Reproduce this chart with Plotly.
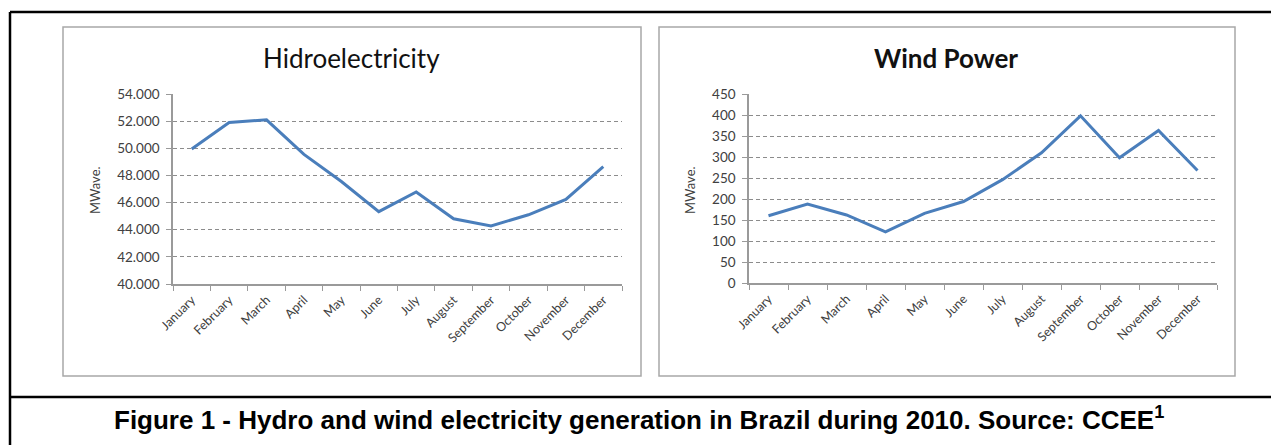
import plotly.graph_objects as go

W, H = 1279, 445
OFF = 8  # page body margin compensation

months = ["January", "February", "March", "April", "May", "June", "July",
          "August", "September", "October", "November", "December"]
hydro = [49950, 51900, 52100, 49550, 47550, 45330, 46780, 44810, 44280, 45100, 46230, 48650]
wind = [160, 188, 162, 122, 166, 194, 246, 310, 398, 298, 363, 268]

hydro_ticks = list(range(40000, 54001, 2000))
wind_ticks = list(range(0, 451, 50))

LINE = "#4A7EBB"
GRID = "#8c8c8c"
AXIS = "#9a9a9a"
TXT = "#404040"
FONT = "Lato"


def fx(x):
    return (x - OFF) / W


def fy(y):
    return 1 - (y - OFF) / H


fig = go.Figure()
fig.add_trace(go.Scatter(x=months, y=hydro, mode="lines", xaxis="x", yaxis="y",
                         line=dict(color=LINE, width=3), showlegend=False))
fig.add_trace(go.Scatter(x=months, y=wind, mode="lines", xaxis="x2", yaxis="y2",
                         line=dict(color=LINE, width=3), showlegend=False))

xcommon = dict(type="category", range=[-0.5, 11.5], tickson="boundaries",
               ticks="outside", ticklen=5, tickcolor=AXIS, showline=True,
               linecolor=AXIS, linewidth=1.5, showgrid=False, tickangle=-45,
               automargin=False, ticklabelstandoff=2,
               tickfont=dict(family=FONT, size=12.5, color=TXT), fixedrange=True)
ycommon = dict(ticks="outside", ticklen=5, tickcolor=AXIS, showline=True,
               linecolor=AXIS, linewidth=1.5, showgrid=True, gridcolor=GRID,
               griddash="4px,3px", gridwidth=1, zeroline=False, automargin=False,
               ticklabelstandoff=4,
               tickfont=dict(family=FONT, size=13.5, color=TXT), fixedrange=True)

fig.update_layout(
    width=W, height=H,
    margin=dict(l=0, r=0, t=0, b=0, pad=0, autoexpand=False),
    paper_bgcolor="white", plot_bgcolor="white",
    separators=",.",
    xaxis=dict(domain=[fx(173), fx(622)], anchor="y", **xcommon),
    yaxis=dict(domain=[fy(284), fy(94)], anchor="x", range=[40000, 54000],
               tickvals=hydro_ticks, tickformat=",d", **ycommon),
    xaxis2=dict(domain=[fx(749), fx(1217)], anchor="y2", **xcommon),
    yaxis2=dict(domain=[fy(283), fy(94)], anchor="x2", range=[0, 450],
                tickvals=wind_ticks, **ycommon),
)

shapes = []
# outer frame
shapes.append(dict(type="line", xref="paper", yref="paper", x0=fx(10), x1=1.01,
                   y0=fy(12), y1=fy(12), line=dict(color="black", width=2.5)))
shapes.append(dict(type="line", xref="paper", yref="paper", x0=fx(10), x1=fx(10),
                   y0=fy(12), y1=-0.02, line=dict(color="black", width=2.5)))
shapes.append(dict(type="line", xref="paper", yref="paper", x0=fx(10), x1=1.01,
                   y0=fy(397), y1=fy(397), line=dict(color="black", width=2.5)))
# panel boxes
for x0, x1 in [(63, 641), (659, 1235)]:
    shapes.append(dict(type="rect", xref="paper", yref="paper", x0=fx(x0), x1=fx(x1),
                       y0=fy(376), y1=fy(27), line=dict(color="#a8a8a8", width=1.5)))
fig.update_layout(shapes=shapes)

ann = [
    dict(text="Hidroelectricity", x=fx(351), y=fy(58), font=dict(family=FONT, size=26, color="#111")),
    dict(text="<b>Wind Power</b>", x=fx(946), y=fy(58), font=dict(family=FONT, size=26, color="#111")),
    dict(text="MWave.", x=fx(95), y=fy(190), textangle=-90, font=dict(family=FONT, size=13, color=TXT)),
    dict(text="MWave.", x=fx(690), y=fy(190), textangle=-90, font=dict(family=FONT, size=13, color=TXT)),
    dict(text="<b>Figure 1 - Hydro and wind electricity generation in Brazil during 2010. Source: CCEE<sup>1</sup></b>",
         x=fx(639), y=fy(418), font=dict(family="Liberation Sans", size=26, color="black")),
]
for a in ann:
    a.update(xref="paper", yref="paper", showarrow=False, xanchor="center", yanchor="middle")
fig.update_layout(annotations=ann)

fig.write_html("out.html")
